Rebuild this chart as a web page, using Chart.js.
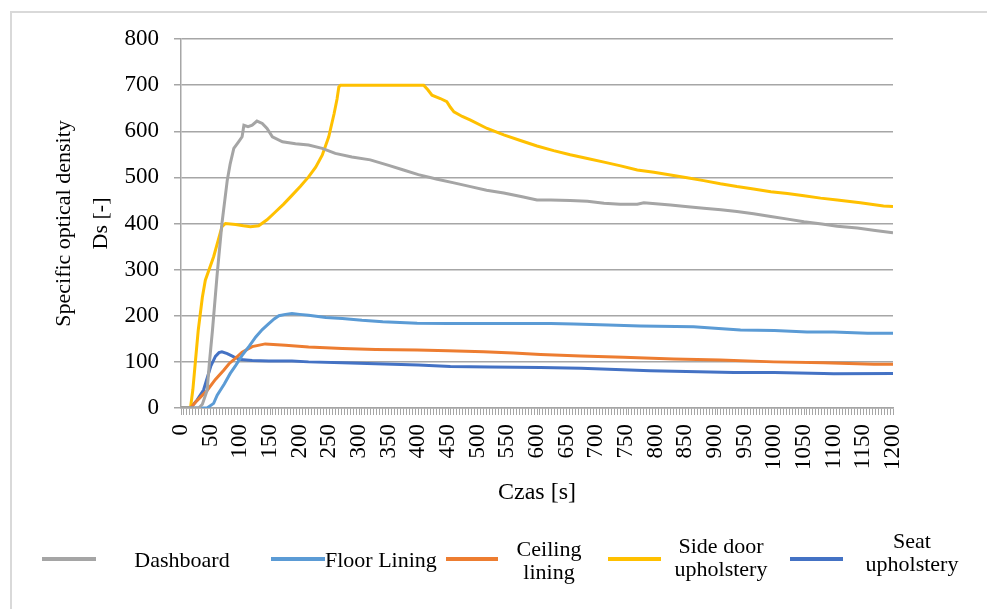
<!DOCTYPE html>
<html>
<head>
<meta charset="utf-8">
<script src="https://cdn.jsdelivr.net/npm/chart.js@4.4.1/dist/chart.umd.min.js"></script>
<style>
  body { margin: 0; background: #fff; font-family: "Liberation Serif", "Times New Roman", serif; }
  #wrap { position: relative; width: 987px; height: 609px; overflow: hidden; background: #fff; }
  #frame { position: absolute; left: 10px; top: 11px; width: 990px; height: 610px; border-left: 2px solid #d9d9d9; border-top: 2px solid #d9d9d9; }
  #chartBox { position: absolute; left: 0; top: 0; width: 987px; height: 609px; }
  .swatch { position: absolute; height: 4px; }
  .label { position: absolute; font-size: 22px; line-height: 23px; color: #000; text-align: center; }
</style>
</head>
<body>
<div id="wrap">
  <div id="frame"></div>
  <div id="chartBox"><canvas id="densityChart"></canvas></div>
  <div id="legend"></div>
</div>
<script>
// series (time in s, Ds value)
const seriesNames = ["Dashboard", "Floor Lining", "Ceiling lining", "Side door upholstery", "Seat upholstery"];
const seriesColors = ["#a5a5a5", "#5b9bd5", "#ed7d31", "#ffc000", "#4472c4"];

const dashboardT = [0, 30, 36, 44, 48, 53, 61, 69, 78, 83, 89, 97, 103, 106, 113, 120, 128, 137, 145, 154, 171, 193, 215, 238, 260, 288, 319, 350, 375, 400, 432, 460, 488, 515, 544, 575, 600, 623, 656, 685, 713, 740, 769, 780, 800, 825, 850, 881, 910, 937, 965, 994, 1020, 1050, 1080, 1106, 1140, 1170, 1200];
const dashboardV = [0, 0, 8, 38, 100, 168, 291, 400, 494, 530, 563, 577, 588, 613, 610, 613, 622, 617, 606, 588, 577, 573, 570, 563, 552, 544, 538, 526, 516, 506, 496, 488, 480, 472, 466, 458, 451, 451, 450, 448, 444, 442, 442, 445, 443, 440, 437, 433, 430, 426, 421, 415, 410, 404, 399, 394, 390, 385, 380];

const floorT = [0, 44, 55, 61, 73, 83, 92, 103, 115, 126, 137, 148, 157, 165, 176, 187, 200, 215, 244, 272, 305, 340, 398, 450, 500, 560, 623, 662, 720, 774, 864, 900, 943, 1000, 1055, 1100, 1157, 1200];
const floorV = [0, 0, 10, 28, 52, 75, 92, 114, 134, 154, 170, 183, 193, 200, 203, 205, 203, 201, 196, 194, 190, 187, 184, 183, 183, 183, 183, 182, 180, 178, 176, 173, 169, 168, 165, 165, 162, 162];

const ceilingT = [0, 16, 27, 44, 58, 72, 81, 92, 103, 120, 142, 176, 215, 272, 328, 398, 450, 510, 560, 606, 674, 746, 830, 909, 999, 1083, 1168, 1200];
const ceilingV = [0, 0, 16, 38, 62, 82, 96, 108, 121, 133, 139, 136, 132, 129, 127, 126, 124, 122, 119, 116, 113, 110, 106, 104, 100, 98, 95, 95];

const sideDoorT = [0, 16, 20, 24, 29, 36, 41, 55, 69, 75, 92, 105, 117, 131, 145, 159, 173, 187, 201, 215, 227, 238, 249, 258, 263, 266, 269, 300, 350, 409, 416, 423, 437, 448, 454, 460, 474, 488, 516, 544, 572, 600, 628, 656, 685, 713, 741, 769, 797, 825, 853, 881, 909, 937, 965, 994, 1022, 1050, 1078, 1106, 1145, 1184, 1200];
const sideDoorV = [0, 0, 40, 97, 168, 240, 277, 328, 393, 400, 398, 395, 393, 395, 408, 425, 442, 461, 480, 501, 522, 548, 588, 638, 670, 696, 700, 700, 700, 700, 690, 678, 671, 664, 652, 642, 632, 624, 606, 592, 580, 568, 558, 549, 541, 533, 525, 516, 511, 505, 499, 493, 486, 480, 475, 469, 465, 460, 455, 451, 445, 438, 437];

const seatT = [0, 16, 27, 38, 50, 58, 64, 69, 78, 89, 100, 120, 148, 187, 215, 272, 328, 400, 454, 520, 606, 674, 791, 932, 1000, 1083, 1100, 1200];
const seatV = [0, 0, 17, 39, 90, 112, 120, 122, 118, 111, 105, 103, 102, 102, 100, 98, 96, 93, 90, 89, 88, 86, 81, 77, 77, 75, 74, 75];

const seriesTimes = [dashboardT, floorT, ceilingT, sideDoorT, seatT];
const seriesValues = [dashboardV, floorV, ceilingV, sideDoorV, seatV];

const yTitle = ["Specific optical density", "Ds [-]"];
const xTitle = "Czas [s]";
const tickStep = 5;
const labelStep = 50;

const axisGray = "#a6a6a6";
const serif = "'Liberation Serif', 'Times New Roman', serif";

const densityChart = new Chart(document.getElementById("densityChart"), {
  type: "line",
  data: {
    datasets: seriesNames.map((name, i) => ({
      label: name,
      data: seriesTimes[i].map((t, j) => ({ x: t, y: seriesValues[i][j] })),
      borderColor: seriesColors[i],
      backgroundColor: seriesColors[i],
      borderWidth: 3,
      pointRadius: 0,
      tension: 0,
      fill: false
    }))
  },
  options: {
    responsive: true,
    maintainAspectRatio: false,
    animation: false,
    layout: { padding: { top: 39, right: 94, bottom: 98, left: 0 } },
    plugins: { legend: { display: false }, tooltip: { enabled: false } },
    scales: {
      x: {
        type: "linear",
        min: 0,
        max: 1200,
        afterBuildTicks: (axis) => {
          const ticks = [];
          for (let v = 0; v <= 1200; v += tickStep) ticks.push({ value: v });
          axis.ticks = ticks;
        },
        afterFit: (axis) => { axis.height = 103; },
        ticks: {
          autoSkip: false,
          minRotation: 90,
          maxRotation: 90,
          padding: 9,
          color: "#000",
          font: { family: serif, size: 23 },
          callback: (v) => (v % labelStep === 0 ? String(v) : "")
        },
        grid: { drawOnChartArea: false, drawTicks: true, tickLength: 7, color: axisGray, lineWidth: 1 },
        border: { display: true, color: axisGray, width: 1.5 },
        title: { display: true, text: xTitle, color: "#000", font: { family: serif, size: 24 }, padding: { top: 4, bottom: 4 } }
      },
      y: {
        min: 0,
        max: 800,
        afterFit: (axis) => { axis.width = 181; },
        ticks: { stepSize: 100, padding: 15, color: "#000", font: { family: serif, size: 23 } },
        grid: { color: axisGray, lineWidth: 1.5, tickLength: 7 },
        border: { display: true, color: axisGray, width: 1.5 },
        title: {
          display: true,
          text: yTitle,
          color: "#000",
          font: { family: serif, size: 22, lineHeight: 1.68 },
          padding: { top: 46, bottom: 0 }
        }
      }
    }
  }
});

// legend placement (px) - the figure's legend wraps long names onto two lines
const legendSpots = [
  { lineLeft: 42, lineWidth: 54, textLeft: 122, textWidth: 120, textTop: 548 },
  { lineLeft: 271, lineWidth: 54, textLeft: 325, textWidth: 0, textTop: 548 },
  { lineLeft: 446, lineWidth: 52, textLeft: 509, textWidth: 80, textTop: 537 },
  { lineLeft: 608, lineWidth: 53, textLeft: 666, textWidth: 110, textTop: 534 },
  { lineLeft: 790, lineWidth: 53, textLeft: 862, textWidth: 100, textTop: 529 }
];

const legend = document.getElementById("legend");
densityChart.data.datasets.forEach((ds, i) => {
  const spot = legendSpots[i];
  const swatch = document.createElement("div");
  swatch.className = "swatch";
  swatch.style.left = spot.lineLeft + "px";
  swatch.style.width = spot.lineWidth + "px";
  swatch.style.top = "557px";
  swatch.style.background = ds.borderColor;
  legend.appendChild(swatch);

  const label = document.createElement("div");
  label.className = "label";
  label.style.left = spot.textLeft + "px";
  label.style.top = spot.textTop + "px";
  if (spot.textWidth) label.style.width = spot.textWidth + "px";
  else label.style.whiteSpace = "nowrap";
  label.textContent = ds.label;
  legend.appendChild(label);
});
</script>
</body>
</html>
